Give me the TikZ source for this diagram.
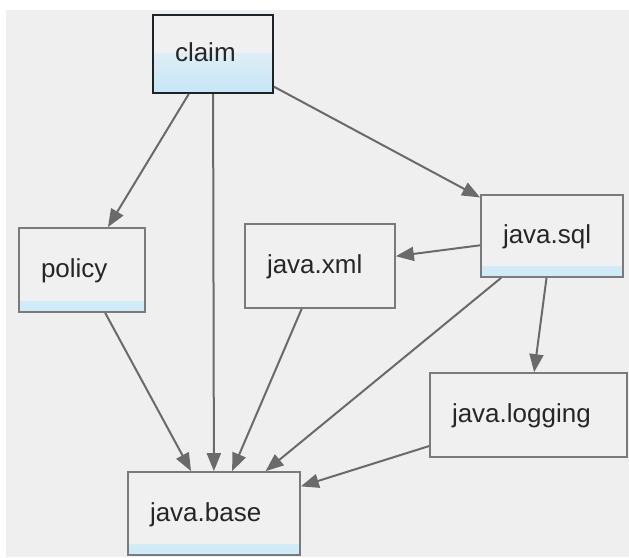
\documentclass[tikz,border=0pt]{standalone}
\usepackage{fontspec}
\setmainfont{Liberation Sans}
\usetikzlibrary{arrows.meta}
\definecolor{bggray}{HTML}{EFEFEF}
\definecolor{boxfill}{HTML}{F0F0F0}
\definecolor{boxline}{HTML}{7A7A7A}
\definecolor{selline}{HTML}{1E2426}
\definecolor{bandblue}{HTML}{CDEBF8}
\definecolor{claimblue}{HTML}{C6E6F7}
\definecolor{claimtop}{HTML}{F5F5F5}
\definecolor{edgegray}{HTML}{6A6A6A}
\definecolor{textgray}{HTML}{262626}
\tikzset{
  modbox/.style={draw=boxline, line width=1.7pt, fill=boxfill, inner xsep=22pt, inner ysep=0pt,
    align=left, text height=18pt, text depth=3pt, text=textgray,
    font=\fontsize{26}{30}\selectfont},
  band/.style={path picture={\shade[top color=boxfill, bottom color=bandblue]
    (path picture bounding box.south west) rectangle ([yshift=11pt]path picture bounding box.south east);}},
  selbox/.style={draw=selline, line width=2pt,
    path picture={\shade[top color=claimtop, bottom color=claimblue]
    (path picture bounding box.south west) rectangle ([yshift=40pt]path picture bounding box.south east);}},
  edge/.style={draw=edgegray, line width=2pt, -{Triangle[length=18pt,width=14pt,fill=edgegray]}}
}
\begin{document}
\begin{tikzpicture}[x=1pt,y=-1pt]
\useasboundingbox (0,0) rectangle (629,557);
\fill[white] (0,0) rectangle (629,557);
\fill[bggray] (6,10) rectangle (629,557);

\node[modbox, selbox, minimum width=120pt, text width=76pt, minimum height=78pt] (claim) at (213,54) {claim};
\node[modbox, band, minimum width=126pt, text width=82pt, minimum height=84pt] (policy) at (82,270) {policy};
\node[modbox, band, minimum width=142pt, text width=98pt, minimum height=82pt] (sql) at (552,236) {java.sql};
\node[modbox, minimum width=150pt, text width=106pt, minimum height=84pt] (xml) at (320,266) {java.xml};
\node[modbox, band, minimum width=172pt, text width=128pt, minimum height=83pt] (base) at (214,513.5) {java.base};
\node[modbox, minimum width=197pt, text width=153pt, minimum height=84pt] (logging) at (528.5,415) {java.logging};

\draw[edge] (claim) -- (policy);
\draw[edge] (claim) -- (base);
\draw[edge] (claim) -- (sql);
\draw[edge] (sql) -- (xml);
\draw[edge] (sql) -- (logging);
\draw[edge] (sql) -- (base);
\draw[edge] (xml) -- (base);
\draw[edge] (policy) -- (base);
\draw[edge] (logging) -- (base);
\end{tikzpicture}
\end{document}
